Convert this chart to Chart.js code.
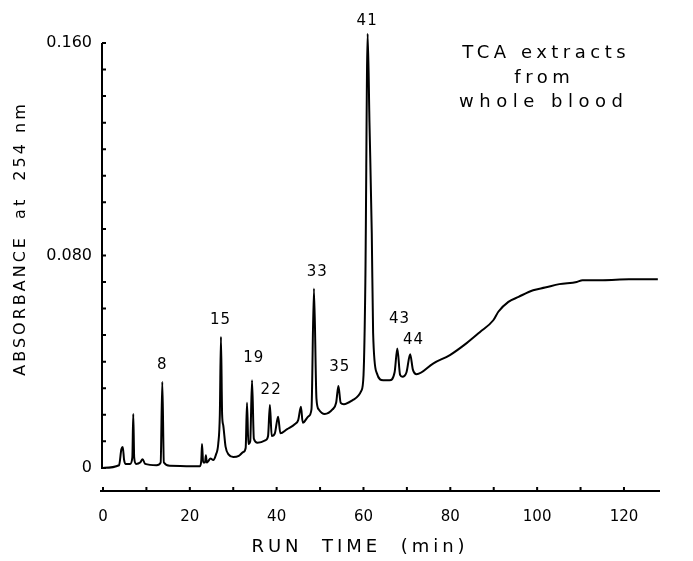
<!DOCTYPE html>
<html>
<head>
<meta charset="utf-8">
<script src="https://cdn.jsdelivr.net/npm/chart.js@4"></script>
<style>
  body { margin: 0; background: #fff; }
  .wrap { width: 693px; height: 561px; position: relative; }
</style>
</head>
<body>
<div class="wrap"><canvas id="chromChart"></canvas></div>
<script>
// Chromatogram: TCA extracts from whole blood

// run time (min) and absorbance at 254 nm
const runTime = [
  0, 3.7, 4.23, 4.55, 4.86, 5.18, 6.23, 6.76, 6.97, 7.18,
  7.6, 8.55, 9.12, 9.7, 12.33, 13.28, 13.66, 14.02, 15.39, 22.33,
  22.65, 22.81, 23.07, 23.49, 23.7, 23.91, 24.23, 24.75, 25.39, 26.02,
  26.54, 26.91, 27.17, 27.44, 27.7, 28.23, 28.96, 30.02, 31.28, 32.33,
  32.86, 33.17, 33.49, 33.91, 34.33, 34.75, 35.59, 37.49, 38.02, 38.44,
  38.86, 39.59, 40.33, 40.86, 42.33, 44.23, 44.96, 45.59, 46.01, 47.38,
  48.02, 48.59, 49.17, 49.7, 51.07, 52.86, 53.7, 54.22, 54.75, 55.49,
  57.59, 59.49, 60.01, 60.43, 60.96, 61.38, 61.91, 62.22, 63.07, 64.54,
  66.01, 67.17, 67.8, 68.43, 68.96, 69.91, 70.75, 71.38, 72.22, 76.12,
  79.91, 83.69, 86.85, 89.9, 91.06, 93.38, 95.72, 99.08, 101.82, 105.11,
  109.12, 110.46, 115.13, 121.14, 127.8
];
const absorbance = [
  0, 0.001, 0.007, 0.0079, 0.003, 0.0015, 0.0015, 0.004, 0.0203, 0.004,
  0.0015, 0.002, 0.0033, 0.0015, 0.001, 0.002, 0.0324, 0.002, 0.0008, 0.0006,
  0.003, 0.009, 0.002, 0.002, 0.0048, 0.002, 0.0025, 0.0035, 0.003, 0.005,
  0.009, 0.02, 0.0494, 0.02, 0.016, 0.008, 0.005, 0.0041, 0.0045, 0.006,
  0.0075, 0.0245, 0.009, 0.01, 0.033, 0.011, 0.0095, 0.0105, 0.012, 0.0237,
  0.012, 0.013, 0.0193, 0.013, 0.0145, 0.0165, 0.018, 0.023, 0.017, 0.0195,
  0.022, 0.0676, 0.026, 0.022, 0.0203, 0.022, 0.0245, 0.0308, 0.0245, 0.024,
  0.0256, 0.029, 0.035, 0.07, 0.1635, 0.13, 0.0883, 0.0508, 0.0357, 0.033,
  0.033, 0.036, 0.045, 0.035, 0.0343, 0.036, 0.0428, 0.037, 0.0353, 0.0394,
  0.0425, 0.0469, 0.0512, 0.0556, 0.0588, 0.0625, 0.0644, 0.0669, 0.0679, 0.0692,
  0.07, 0.0707, 0.0707, 0.071, 0.071
];

// peak numbers and where their labels sit (min, absorbance)
const peakNames = ['8', '15', '19', '22', '33', '35', '41', '43', '44'];
const peakLabelTime = [13.52, 26.95, 34.62, 38.62, 49.22, 54.42, 60.73, 68.17, 71.4];
const peakLabelLevel = [0.0387, 0.0556, 0.0414, 0.0293, 0.0736, 0.038, 0.1684, 0.056, 0.048];

// axis ticks
const xTickValues = [0, 10, 20, 30, 40, 50, 60, 70, 80, 90, 100, 110, 120];
const xTickLabels = ['0', '', '20', '', '40', '', '60', '', '80', '', '100', '', '120'];
const yTickValues = [0, 0.01, 0.02, 0.03, 0.04, 0.05, 0.06, 0.07, 0.08, 0.09, 0.10, 0.11, 0.12, 0.13, 0.14, 0.15, 0.16];
const yTickLabels = { 0: '0', 0.08: '0.080', 0.16: '0.160' };

const points = runTime.map((t, i) => ({ x: t, y: absorbance[i] }));
const FONT = "'DejaVu Sans', sans-serif";

function spacedText(ctx, text, x, y, size, spacing, rotate) {
    ctx.save();
    ctx.font = size + 'px ' + FONT;
    ctx.letterSpacing = spacing + 'px';
    ctx.textAlign = 'center';
    ctx.textBaseline = 'middle';
    ctx.translate(x, y);
    if (rotate) ctx.rotate(-Math.PI / 2);
    // letterSpacing adds a trailing gap, shift back half of it
    ctx.fillText(text, spacing / 2, 0);
    ctx.restore();
}

// axis lines, inward ticks and all the labels of the figure
const decorations = {
    id: 'decorations',
    afterDraw(chart) {
        const { ctx, chartArea } = chart;
        const x = chart.scales.x;
        const y = chart.scales.y;
        ctx.save();
        ctx.strokeStyle = '#000';
        ctx.fillStyle = '#000';
        ctx.lineWidth = 2;

        // y axis, only from 0 to 0.160
        const ax = x.getPixelForValue(0) - 1;
        ctx.beginPath();
        ctx.moveTo(ax, y.getPixelForValue(0) + 1);
        ctx.lineTo(ax, y.getPixelForValue(0.16));
        yTickValues.forEach(v => {
            const py = y.getPixelForValue(v);
            ctx.moveTo(ax, py);
            ctx.lineTo(ax + 4, py);
        });
        ctx.stroke();

        // x axis, a separate line under the trace
        const by = chartArea.bottom;
        ctx.beginPath();
        ctx.moveTo(ax - 2, by);
        ctx.lineTo(chartArea.right, by);
        xTickValues.forEach(v => {
            const px = x.getPixelForValue(v);
            ctx.moveTo(px, by);
            ctx.lineTo(px, by - 4);
        });
        ctx.stroke();

        // peak numbers
        peakNames.forEach((name, i) => {
            spacedText(ctx, name, x.getPixelForValue(peakLabelTime[i]), y.getPixelForValue(peakLabelLevel[i]), 15, 1);
        });

        // axis titles
        spacedText(ctx, 'ABSORBANCE  at  254 nm', 21, 240, 16, 3, true);
        spacedText(ctx, 'RUN  TIME  (min)', 358, 547, 18, 4);

        // sample note
        spacedText(ctx, 'TCA extracts', 544, 53, 18, 4.5);
        spacedText(ctx, 'from', 542, 78, 18, 4.5);
        spacedText(ctx, 'whole blood', 541, 102, 18, 5.5);
        ctx.restore();
    }
};

const chromCtx = document.getElementById('chromChart');
new Chart(chromCtx, {
    type: 'line',
    data: {
        datasets: [{
            data: points,
            borderColor: '#000',
            borderWidth: 2,
            pointRadius: 0,
            cubicInterpolationMode: 'monotone',
            fill: false,
            clip: false
        }]
    },
    options: {
        responsive: true,
        maintainAspectRatio: false,
        animation: false,
        layout: {
            padding: { top: 43, right: 33, bottom: 0, left: 0 }
        },
        plugins: {
            legend: { display: false },
            tooltip: { enabled: false }
        },
        scales: {
            x: {
                type: 'linear',
                min: 0,
                max: 128.3,
                grid: { display: false, drawTicks: false },
                border: { display: false },
                afterBuildTicks: scale => {
                    scale.ticks = xTickValues.map(v => ({ value: v }));
                },
                afterFit: scale => { scale.height = 70; },
                ticks: {
                    padding: 17,
                    color: '#000',
                    maxRotation: 0,
                    autoSkip: false,
                    font: { family: 'DejaVu Sans', size: 15 },
                    callback: (v) => xTickLabels[xTickValues.indexOf(v)] ?? ''
                }
            },
            y: {
                type: 'linear',
                min: -0.0087,
                max: 0.16,
                grid: { display: false, drawTicks: false },
                border: { display: false },
                afterBuildTicks: scale => {
                    scale.ticks = yTickValues.map(v => ({ value: v }));
                },
                afterFit: scale => { scale.width = 103; },
                ticks: {
                    padding: 11,
                    color: '#000',
                    autoSkip: false,
                    font: { family: 'DejaVu Sans', size: 16 },
                    callback: (v) => {
                        const key = Math.round(v * 100) / 100;
                        return yTickLabels[key] ?? '';
                    }
                }
            }
        }
    },
    plugins: [decorations]
});
</script>
</body>
</html>
